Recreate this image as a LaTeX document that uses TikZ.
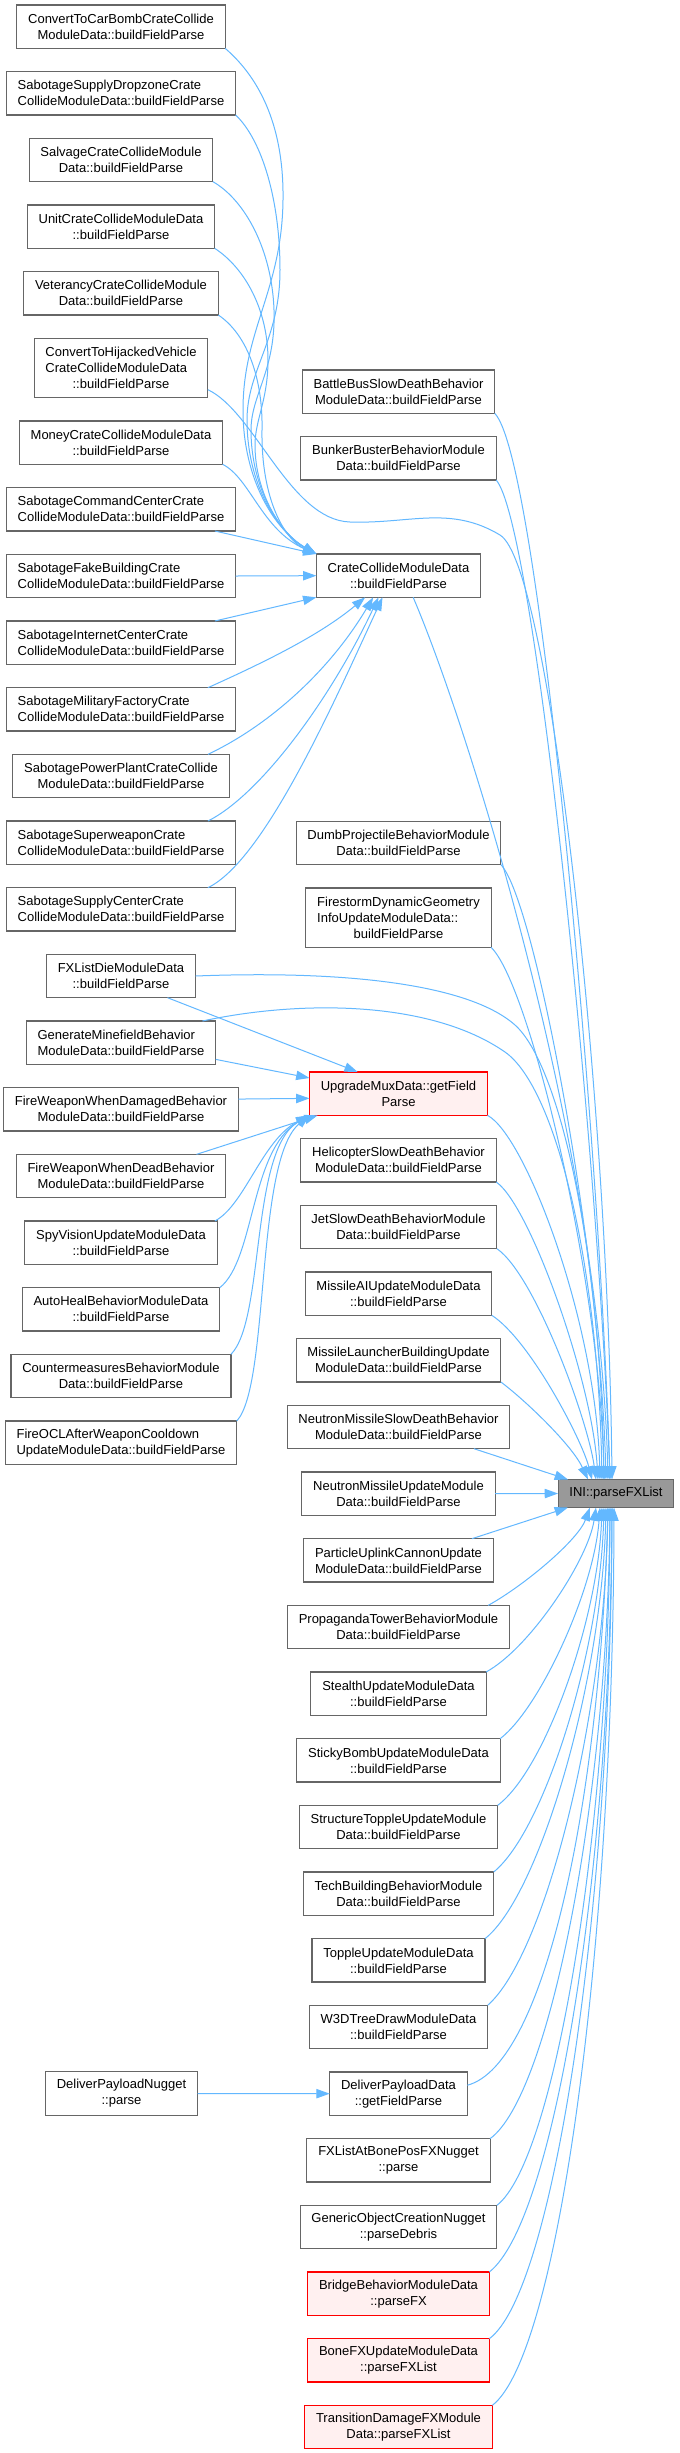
\documentclass[tikz,border=0pt]{standalone}
\usepackage{fontspec}
\setmainfont{Liberation Sans}
\usetikzlibrary{arrows.meta,positioning}
\definecolor{dxedge}{HTML}{63B8FF}
\definecolor{dxline}{HTML}{666666}
\definecolor{dxroot}{HTML}{999999}
\definecolor{dxpink}{HTML}{FFF0F0}
\definecolor{dxred}{HTML}{FF0000}

\begin{document}
\begin{tikzpicture}[
    x=0.75pt,y=-0.75pt,
    node distance=17.5pt,
    box/.style={draw=dxline,fill=#1,line width=0.8pt,outer sep=0pt,minimum height=32.5pt,inner xsep=8.5pt,inner ysep=3pt,align=center,font=\fontsize{9.75pt}{12pt}\selectfont},
    box/.default=white,
    lbox/.style={box,align=left},
    tall/.style={minimum height=44.5pt},
    redbox/.style={box=dxpink,draw=dxred},
    rootbox/.style={box=dxroot,minimum height=21pt},
    arr/.style={-{Triangle[length=10pt,width=7pt]},dxedge,line width=0.75pt}
]
\path[use as bounding box,fill=white] (0,0) rectangle (679,2453);

\node[box,anchor=north] (ctcb) at (121,5) {ConvertToCarBombCrateCollide\\ModuleData::buildFieldParse};
\node[lbox,below=of ctcb] (ssdz) {SabotageSupplyDropzoneCrate\\CollideModuleData::buildFieldParse};
\node[box,below=of ssdz] (salv) {SalvageCrateCollideModule\\Data::buildFieldParse};
\node[box,below=of salv] (unit) {UnitCrateCollideModuleData\\::buildFieldParse};
\node[box,below=of unit] (vet) {VeterancyCrateCollideModule\\Data::buildFieldParse};
\node[lbox,tall,below=of vet] (ctcv) {ConvertToHijackedVehicle\\CrateCollideModuleData\\\hspace*{\fill}::buildFieldParse\hspace*{\fill}};
\node[box,below=of ctcv] (money) {MoneyCrateCollideModuleData\\::buildFieldParse};
\node[lbox,below=of money] (scc) {SabotageCommandCenterCrate\\CollideModuleData::buildFieldParse};
\node[lbox,below=of scc] (sfb) {SabotageFakeBuildingCrate\\CollideModuleData::buildFieldParse};
\node[lbox,below=of sfb] (sic) {SabotageInternetCenterCrate\\CollideModuleData::buildFieldParse};
\node[lbox,below=of sic] (smf) {SabotageMilitaryFactoryCrate\\CollideModuleData::buildFieldParse};
\node[box,below=of smf] (spp) {SabotagePowerPlantCrateCollide\\ModuleData::buildFieldParse};
\node[lbox,below=of spp] (ssw) {SabotageSuperweaponCrate\\CollideModuleData::buildFieldParse};
\node[lbox,below=of ssw] (ssc) {SabotageSupplyCenterCrate\\CollideModuleData::buildFieldParse};
\node[box,below=of ssc] (fxld) {FXListDieModuleData\\::buildFieldParse};
\node[lbox,below=of fxld] (gmf) {GenerateMinefieldBehavior\\ModuleData::buildFieldParse};
\node[box,below=of gmf] (fwwd) {FireWeaponWhenDamagedBehavior\\ModuleData::buildFieldParse};
\node[box,below=of fwwd] (fwdead) {FireWeaponWhenDeadBehavior\\ModuleData::buildFieldParse};
\node[box,below=of fwdead] (spy) {SpyVisionUpdateModuleData\\::buildFieldParse};
\node[box,below=of spy] (ah) {AutoHealBehaviorModuleData\\::buildFieldParse};
\node[box,below=of ah] (cm) {CountermeasuresBehaviorModule\\Data::buildFieldParse};
\node[lbox,below=of cm] (focl) {FireOCLAfterWeaponCooldown\\UpdateModuleData::buildFieldParse};

\node[box,anchor=north] (bbus) at (398.5,370) {BattleBusSlowDeathBehavior\\ModuleData::buildFieldParse};
\node[box,below=of bbus] (bunker) {BunkerBusterBehaviorModule\\Data::buildFieldParse};
\node[box,below=55.5pt of bunker] (crate) {CrateCollideModuleData\\::buildFieldParse};
\node[box,below=168pt of crate] (dumb) {DumbProjectileBehaviorModule\\Data::buildFieldParse};
\node[lbox,tall,below=of dumb] (fire) {FirestormDynamicGeometry\\InfoUpdateModuleData::\\\hspace*{\fill}buildFieldParse\hspace*{\fill}};
\node[redbox,below=93.5pt of fire] (umux) {UpgradeMuxData::getField\\Parse};
\node[box,below=of umux] (heli) {HelicopterSlowDeathBehavior\\ModuleData::buildFieldParse};
\node[box,below=of heli] (jet) {JetSlowDeathBehaviorModule\\Data::buildFieldParse};
\node[box,below=of jet] (mai) {MissileAIUpdateModuleData\\::buildFieldParse};
\node[box,below=of mai] (mlb) {MissileLauncherBuildingUpdate\\ModuleData::buildFieldParse};
\node[box,below=of mlb] (nsd) {NeutronMissileSlowDeathBehavior\\ModuleData::buildFieldParse};
\node[box,below=of nsd] (nupd) {NeutronMissileUpdateModule\\Data::buildFieldParse};
\node[box,below=of nupd] (puc) {ParticleUplinkCannonUpdate\\ModuleData::buildFieldParse};
\node[box,below=of puc] (prop) {PropagandaTowerBehaviorModule\\Data::buildFieldParse};
\node[box,below=of prop] (stealth) {StealthUpdateModuleData\\::buildFieldParse};
\node[box,below=of stealth] (sticky) {StickyBombUpdateModuleData\\::buildFieldParse};
\node[box,below=of sticky] (struct) {StructureToppleUpdateModule\\Data::buildFieldParse};
\node[box,below=of struct] (tech) {TechBuildingBehaviorModule\\Data::buildFieldParse};
\node[box,below=of tech] (topple) {ToppleUpdateModuleData\\::buildFieldParse};
\node[box,below=of topple] (w3d) {W3DTreeDrawModuleData\\::buildFieldParse};
\node[box,below=of w3d] (dpd) {DeliverPayloadData\\::getFieldParse};
\node[box,below=of dpd] (fxab) {FXListAtBonePosFXNugget\\::parse};
\node[box,below=of fxab] (gocn) {GenericObjectCreationNugget\\::parseDebris};
\node[redbox,below=of gocn] (bridge) {BridgeBehaviorModuleData\\::parseFX};
\node[redbox,below=of bridge] (bonefx) {BoneFXUpdateModuleData\\::parseFXList};
\node[redbox,below=of bonefx] (tdfx) {TransitionDamageFXModule\\Data::parseFXList};

\node[box] (dpn) at (121.5,2093.5) {DeliverPayloadNugget\\::parse};
\node[rootbox] (ini) at (616,1493.5) {INI::parseFXList};

\draw[arr] (ctcb.south east) .. controls (262,80) and (284,130) .. (283,200) .. controls (282,290) and (243,330) .. (243,410) .. controls (243,480) and (275,530) .. (crate.north west);
\draw[arr] (ssdz.south east) .. controls (262,140) and (280,200) .. (280,270) .. controls (280,340) and (247,370) .. (247,420) .. controls (247,485) and (278,532) .. (crate.north west);
\draw[arr] (salv.south east) .. controls (245,200) and (272,250) .. (274,310) .. controls (276,370) and (251,395) .. (251,430) .. controls (251,490) and (281,534) .. (crate.north west);
\draw[arr] (unit.south east) .. controls (245,268) and (268,310) .. (268,360) .. controls (268,400) and (255,420) .. (255,445) .. controls (255,495) and (283,536) .. (crate.north west);
\draw[arr] (vet.south east) .. controls (248,335) and (263,380) .. (262,430) .. controls (261,500) and (285,540) .. (crate.north west);
\draw[arr] (money.south east) .. controls (250,478) and (262,530) .. (crate.north west);
\draw[arr] (scc.-13) -- (crate.north west);
\draw[arr] (sfb.east) -- (crate.west);
\draw[arr] (sic.13) -- (crate.south west);
\draw[arr] (smf.14) .. controls (265,662) and (320,635) .. ([xshift=-25pt]crate.south);
\draw[arr] (spp.14) .. controls (270,725) and (330,670) .. ([xshift=-19pt]crate.south);
\draw[arr] (ssw.14) .. controls (260,795) and (330,700) .. ([xshift=-15pt]crate.south);
\draw[arr] (ssc.14) .. controls (265,860) and (335,700) .. ([xshift=-12pt]crate.south);

\draw[arr] (fxld.-25) -- (umux.152);
\draw[arr] (gmf.-10) -- (umux.170);
\draw[arr] (fwwd.5) -- (umux.183);
\draw[arr] (fwdead.16) -- (umux.195);
\draw[arr] (spy.13) .. controls (245,1205) and (262,1140) .. (umux.south west);
\draw[arr] (ah.north east) .. controls (255,1260) and (250,1150) .. (umux.south west);
\draw[arr] (cm.north east) .. controls (265,1320) and (250,1150) .. (umux.south west);
\draw[arr] (focl.north east) .. controls (270,1385) and (255,1160) .. (umux.south west);

\draw[arr] (ctcv.-14) .. controls (255,412) and (290,520) .. (350,522) .. controls (410,524) and (450,505) .. (500,535) .. controls (550,565) and (608,1100) .. ([xshift=-3pt]ini.north);
\draw[arr] (bbus.south east) .. controls (540,460) and (600,1150) .. ([xshift=-4.5pt]ini.north);
\draw[arr] (bunker.south east) .. controls (535,525) and (598,1150) .. ([xshift=-4.5pt]ini.north);
\draw[arr] ([xshift=11pt]crate.south) .. controls (470,730) and (600,1150) .. ([xshift=-6pt]ini.north);
\draw[arr] (dumb.south east) .. controls (535,900) and (600,1250) .. ([xshift=-7.5pt]ini.north);
\draw[arr] (fire.south east) .. controls (530,985) and (600,1280) .. ([xshift=-9pt]ini.north);
\draw[arr] (fxld.east) .. controls (350,970) and (470,985) .. (515,1025) .. controls (560,1065) and (600,1250) .. ([xshift=-9pt]ini.north);
\draw[arr] ([xshift=-10pt]gmf.north east) .. controls (300,1000) and (430,1000) .. (505,1052) .. controls (555,1087) and (598,1260) .. ([xshift=-10.5pt]ini.north);
\draw[arr] (umux.south east) .. controls (525,1135) and (596,1320) .. ([xshift=-12pt]ini.north);
\draw[arr] (heli.south east) .. controls (530,1205) and (592,1380) .. ([xshift=-13.5pt]ini.north);
\draw[arr] (jet.south east) .. controls (535,1275) and (588,1420) .. ([xshift=-15pt]ini.north);
\draw[arr] (mai.south east) .. controls (530,1340) and (582,1440) .. ([xshift=-18pt]ini.north);
\draw[arr] (mlb.south east) .. controls (525,1400) and (572,1445) .. ([xshift=-21pt]ini.north);
\draw[arr] ([xshift=-27pt]nsd.south east) -- ([xshift=-36pt]ini.north);
\draw[arr] (nupd.east) -- (ini.west);
\draw[arr] ([xshift=-16pt]puc.north east) -- ([xshift=-36pt]ini.south);
\draw[arr] ([xshift=-16pt]prop.north east) .. controls (525,1585) and (578,1540) .. ([xshift=-19.5pt]ini.south);
\draw[arr] (stealth.north east) .. controls (530,1648) and (588,1560) .. ([xshift=-15pt]ini.south);
\draw[arr] (sticky.north east) .. controls (540,1708) and (594,1590) .. ([xshift=-12pt]ini.south);
\draw[arr] (struct.north east) .. controls (545,1770) and (598,1620) .. ([xshift=-10.5pt]ini.south);
\draw[arr] (tech.north east) .. controls (545,1830) and (600,1650) .. ([xshift=-9pt]ini.south);
\draw[arr] (topple.north east) .. controls (540,1895) and (602,1680) .. ([xshift=-7.5pt]ini.south);
\draw[arr] (w3d.north east) .. controls (545,1955) and (604,1720) .. ([xshift=-6pt]ini.south);
\draw[arr] (dpd.7) .. controls (545,2065) and (600,1800) .. ([xshift=-6pt]ini.south);
\draw[arr] (fxab.north east) .. controls (550,2095) and (607,1800) .. ([xshift=-4.5pt]ini.south);
\draw[arr] (gocn.north east) .. controls (555,2160) and (609,1830) .. ([xshift=-4.5pt]ini.south);
\draw[arr] (bridge.north east) .. controls (555,2220) and (610,1870) .. ([xshift=-3pt]ini.south);
\draw[arr] (bonefx.north east) .. controls (555,2290) and (611,1900) .. ([xshift=-3pt]ini.south);
\draw[arr] (tdfx.north east) .. controls (558,2355) and (613,1950) .. ([xshift=-1.5pt]ini.south);

\draw[arr] (dpn.east) -- (dpd.west);
\end{tikzpicture}
\end{document}
